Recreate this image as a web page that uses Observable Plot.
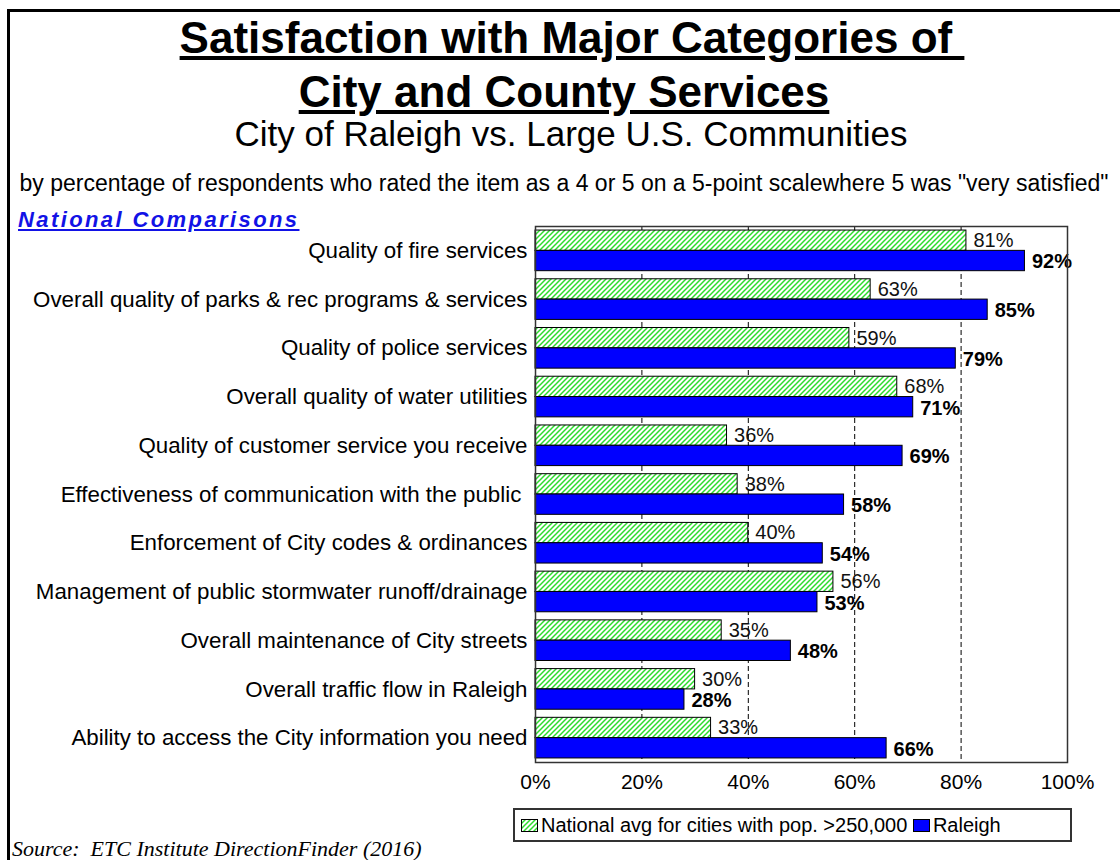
<!DOCTYPE html>
<html><head><meta charset="utf-8">
<script src="https://cdn.jsdelivr.net/npm/d3@7"></script>
<script src="https://cdn.jsdelivr.net/npm/@observablehq/plot@0.6"></script>
<style>
body{margin:0;background:#fff;}
#page{position:relative;width:1120px;height:860px;overflow:hidden;font-family:Arial,"Liberation Sans",sans-serif;color:#000;background:#fff;}
.t{position:absolute;white-space:pre;line-height:1;transform:translateX(-50%);}
#bt{position:absolute;left:7px;top:9px;width:1113px;height:3px;background:#000;}
#bl{position:absolute;left:7px;top:9px;width:3px;height:851px;background:#000;}
#chart{position:absolute;left:0;top:200px;}
#legend{position:absolute;left:513px;top:808px;width:559px;height:34px;box-sizing:border-box;border:2px solid #333;background:#fff;display:flex;align-items:center;padding-left:6px;font-size:20px;white-space:pre;}
#legend svg{margin-right:3px;}
#src{position:absolute;left:12px;top:838px;font-family:"Liberation Serif","Times New Roman",serif;font-style:italic;font-size:22px;line-height:1;white-space:pre;}
</style></head><body>
<div id="page">
  <div id="bt"></div><div id="bl"></div>
  <div class="t" id="t1" style="left:572px;top:16px;font-size:44px;font-weight:bold;text-decoration:underline;"></div>
  <div class="t" id="t2" style="left:564px;top:70px;font-size:44px;font-weight:bold;text-decoration:underline;"></div>
  <div class="t" id="t3" style="left:571px;top:116px;font-size:35px;"></div>
  <div class="t" id="t4" style="left:564px;top:172px;font-size:23px;"></div>
  <div id="nc" style="position:absolute;left:18px;top:209px;font-size:22px;line-height:1;font-weight:bold;font-style:italic;text-decoration:underline;color:#1212e6;letter-spacing:2.4px;white-space:pre;"></div>
  <div id="chart"></div>
  <div id="legend"></div>
  <div id="src"></div>
</div>
<script>
const titleLine1 = "Satisfaction with Major Categories of ";
const titleLine2 = "City and County Services";
const subtitle = "City of Raleigh vs. Large U.S. Communities";
const note = "by percentage of respondents who rated the item as a 4 or 5 on a 5-point scalewhere 5 was \"very satisfied\"";
const sectionLabel = "National Comparisons";
const source = "Source:  ETC Institute DirectionFinder (2016)";

const categories = [
  "Quality of fire services",
  "Overall quality of parks & rec programs & services",
  "Quality of police services",
  "Overall quality of water utilities",
  "Quality of customer service you receive",
  "Effectiveness of communication with the public ",
  "Enforcement of City codes & ordinances",
  "Management of public stormwater runoff/drainage",
  "Overall maintenance of City streets",
  "Overall traffic flow in Raleigh",
  "Ability to access the City information you need"
];
const national = [81, 63, 59, 68, 36, 38, 40, 56, 35, 30, 33];
const raleigh  = [92, 85, 79, 71, 69, 58, 54, 53, 48, 28, 66];
const seriesNames = ["National avg for cities with pop. >250,000", "Raleigh"];
const xTicks = [0, 20, 40, 60, 80, 100];
const gridTicks = [20, 40, 60, 80];

document.getElementById("t1").textContent = titleLine1;
document.getElementById("t2").textContent = titleLine2;
document.getElementById("t3").textContent = subtitle;
document.getElementById("t4").textContent = note;
document.getElementById("nc").textContent = sectionLabel;
document.getElementById("src").textContent = source;

const W = 1120, H = 600, mt = 26, mb = 38, ml = 535, mr = 53;
const pIn = 0.166, pOut = 0.083;
const step = (H - mt - mb) / (categories.length - pIn + 2 * pOut);
const bw = step * (1 - pIn);
const half = bw / 2;

const rows = categories.map((c, i) => ({category: c, national: national[i], raleigh: raleigh[i]}));
const font = "Arial, 'Liberation Sans', sans-serif";

const chart = Plot.plot({
  width: W, height: H,
  marginTop: mt, marginBottom: mb, marginLeft: ml, marginRight: mr,
  style: {fontFamily: font, background: "transparent", color: "#000", overflow: "visible"},
  x: {domain: [0, 100], label: null},
  y: {domain: categories, paddingInner: pIn, paddingOuter: pOut, round: false, label: null},
  marks: [
    Plot.ruleX(gridTicks, {stroke: "#000", strokeWidth: 1, strokeDasharray: "5,3"}),
    Plot.barX(rows, {y: "category", x: "national", fill: "url(#hatch)", stroke: "#000", strokeWidth: 1, insetBottom: half}),
    Plot.barX(rows, {y: "category", x: "raleigh", fill: "#0000ff", stroke: "#000", strokeWidth: 1, insetTop: half}),
    Plot.text(rows, {y: "category", x: "national", text: d => d.national + "%", dx: 7, dy: -half / 2, textAnchor: "start", fontSize: 20, fill: "#111"}),
    Plot.text(rows, {y: "category", x: "raleigh", text: d => d.raleigh + "%", dx: 7, dy: half / 2 + 1, textAnchor: "start", fontSize: 20, fontWeight: "bold", fill: "#000"}),
    Plot.frame({stroke: "#333", strokeWidth: 1.5}),
    Plot.axisX({ticks: xTicks, tickFormat: d => d + "%", tickSize: 0, tickPadding: 12, fontSize: 21, label: null}),
    Plot.axisY({tickSize: 0, tickPadding: 8, fontSize: 22.3, label: null})
  ]
});

const ns = "http://www.w3.org/2000/svg";
const defs = document.createElementNS(ns, "defs");
defs.innerHTML = '<pattern id="hatch" patternUnits="userSpaceOnUse" width="5" height="5"><rect width="5" height="5" fill="#ffffff"/><path d="M-1.25,1.25 l2.5,-2.5 M0,5 l5,-5 M3.75,6.25 l2.5,-2.5" stroke="#2ddc2d" stroke-width="1.5"/></pattern>';
chart.insertBefore(defs, chart.firstChild);
document.getElementById("chart").appendChild(chart);

// legend
const legend = document.getElementById("legend");
const swatchFills = ["url(#hatch)", "#0000ff"];
seriesNames.forEach((name, i) => {
  const s = document.createElementNS(ns, "svg");
  s.setAttribute("width", 17); s.setAttribute("height", 13);
  s.innerHTML = `<rect x="0.5" y="0.5" width="16" height="12" fill="${swatchFills[i]}" stroke="#000" stroke-width="1"/>`;
  legend.appendChild(s);
  const sp = document.createElement("span");
  sp.textContent = name + (i === 0 ? " " : "");
  legend.appendChild(sp);
});
</script>
</body></html>
